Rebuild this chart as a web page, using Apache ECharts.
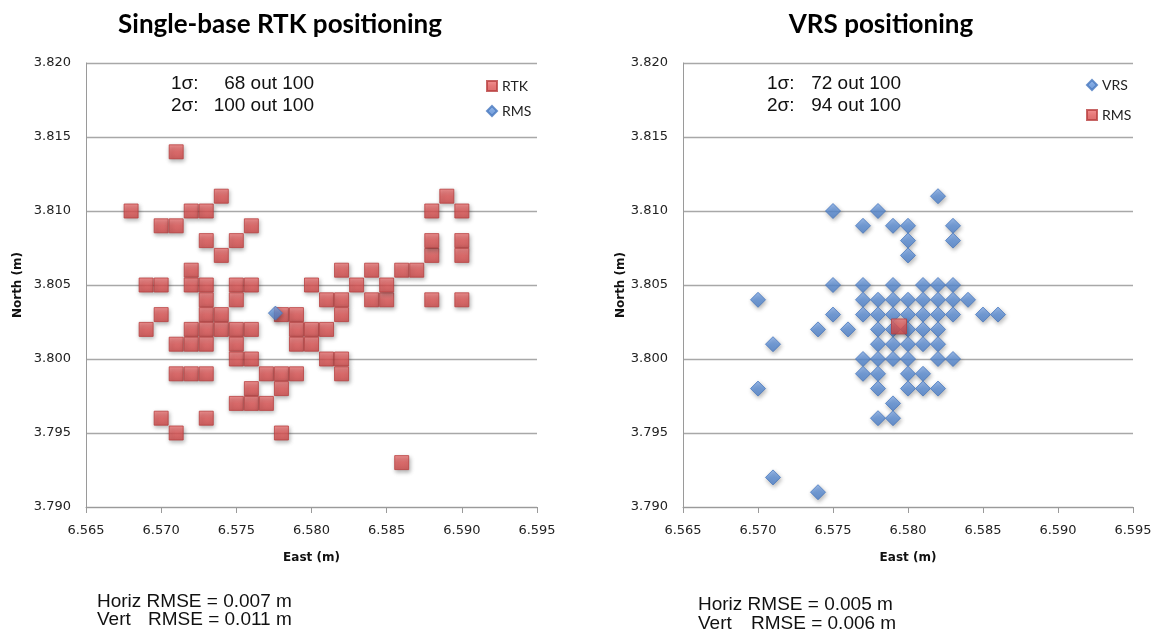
<!DOCTYPE html>
<html>
<head>
<meta charset="utf-8">
<script src="https://cdn.jsdelivr.net/npm/echarts@6/dist/echarts.min.js"></script>
<style>
  html, body { margin: 0; padding: 0; background: #fff; }
  #chart { width: 1158px; height: 633px; }
</style>
</head>
<body>
<div id="chart"></div>
<script>
// East / North positions (m)
const rtkPoints = [
  [6.571, 3.814],
  [6.568, 3.810], [6.572, 3.810], [6.573, 3.810], [6.574, 3.811],
  [6.570, 3.809], [6.571, 3.809], [6.576, 3.809],
  [6.573, 3.808], [6.575, 3.808], [6.574, 3.807], [6.572, 3.806],
  [6.569, 3.805], [6.570, 3.805], [6.572, 3.805], [6.573, 3.805], [6.575, 3.805], [6.576, 3.805],
  [6.573, 3.804], [6.575, 3.804],
  [6.570, 3.803], [6.573, 3.803], [6.574, 3.803],
  [6.569, 3.802], [6.572, 3.802], [6.573, 3.802], [6.574, 3.802], [6.575, 3.802], [6.576, 3.802],
  [6.571, 3.801], [6.572, 3.801], [6.573, 3.801], [6.575, 3.801],
  [6.575, 3.800], [6.576, 3.800],
  [6.571, 3.799], [6.572, 3.799], [6.573, 3.799], [6.577, 3.799], [6.578, 3.799], [6.579, 3.799],
  [6.576, 3.798], [6.578, 3.798],
  [6.575, 3.797], [6.576, 3.797], [6.577, 3.797],
  [6.570, 3.796], [6.573, 3.796],
  [6.571, 3.795], [6.578, 3.795],
  [6.586, 3.793],
  [6.578, 3.803], [6.579, 3.803],
  [6.579, 3.802], [6.580, 3.802], [6.581, 3.802],
  [6.579, 3.801], [6.580, 3.801],
  [6.581, 3.800], [6.582, 3.800],
  [6.582, 3.799],
  [6.580, 3.805],
  [6.581, 3.804], [6.582, 3.804],
  [6.582, 3.806], [6.582, 3.803],
  [6.583, 3.805], [6.584, 3.806],
  [6.584, 3.804], [6.585, 3.804], [6.585, 3.805],
  [6.586, 3.806], [6.587, 3.806],
  [6.588, 3.807], [6.588, 3.808], [6.588, 3.810], [6.589, 3.811],
  [6.590, 3.810], [6.590, 3.808], [6.590, 3.807],
  [6.588, 3.804], [6.590, 3.804]
];
const rtkRms = [[6.5776, 3.8031]];

const vrsPoints = [
  [6.582, 3.811],
  [6.575, 3.810], [6.578, 3.810],
  [6.577, 3.809], [6.579, 3.809], [6.580, 3.809], [6.583, 3.809],
  [6.580, 3.808], [6.583, 3.808],
  [6.580, 3.807],
  [6.575, 3.805], [6.577, 3.805], [6.579, 3.805], [6.581, 3.805], [6.582, 3.805], [6.583, 3.805],
  [6.570, 3.804], [6.577, 3.804], [6.578, 3.804], [6.579, 3.804], [6.580, 3.804],
  [6.581, 3.804], [6.582, 3.804], [6.583, 3.804], [6.584, 3.804],
  [6.575, 3.803], [6.577, 3.803], [6.578, 3.803], [6.579, 3.803], [6.580, 3.803],
  [6.581, 3.803], [6.582, 3.803], [6.583, 3.803], [6.585, 3.803], [6.586, 3.803],
  [6.574, 3.802], [6.576, 3.802], [6.578, 3.802], [6.579, 3.802], [6.580, 3.802], [6.581, 3.802], [6.582, 3.802],
  [6.571, 3.801], [6.578, 3.801], [6.579, 3.801], [6.580, 3.801], [6.581, 3.801], [6.582, 3.801],
  [6.577, 3.800], [6.578, 3.800], [6.579, 3.800], [6.580, 3.800], [6.582, 3.800], [6.583, 3.800],
  [6.577, 3.799], [6.578, 3.799], [6.580, 3.799], [6.581, 3.799],
  [6.570, 3.798], [6.578, 3.798], [6.580, 3.798], [6.581, 3.798], [6.582, 3.798],
  [6.579, 3.797],
  [6.578, 3.796], [6.579, 3.796],
  [6.571, 3.792], [6.574, 3.791]
];
const vrsRms = [[6.5794, 3.8022]];

const chartTitles = ["Single-base RTK positioning", "VRS positioning"];
const sigmaLines = [
  [["1σ:", "68 out 100"], ["2σ:", "100 out 100"]],
  [["1σ:", "72 out 100"], ["2σ:", "94 out 100"]]
];
const rmseLines = [
  [["Horiz RMSE = 0.007 m", ""], ["Vert", "RMSE = 0.011 m"]],
  [["Horiz RMSE = 0.005 m", ""], ["Vert", "RMSE = 0.006 m"]]
];

const chart = echarts.init(document.getElementById("chart"), null, { renderer: "canvas" });

const red = new echarts.graphic.LinearGradient(0, 0, 0, 1, [
  { offset: 0, color: "#f07a7a" },
  { offset: 0.5, color: "#e05656" },
  { offset: 1, color: "#d04848" }
]);
const blue = new echarts.graphic.LinearGradient(0, 0, 0, 1, [
  { offset: 0, color: "#86aeea" },
  { offset: 0.5, color: "#5e91d9" },
  { offset: 1, color: "#4f82cc" }
]);
const shadow = { shadowBlur: 4, shadowColor: "rgba(0,0,0,0.35)", shadowOffsetX: 1, shadowOffsetY: 2 };

const grids = [
  { left: 86, top: 63, width: 451, height: 444 },
  { left: 683, top: 63, width: 450, height: 444 }
];

function xAx(i) {
  return {
    gridIndex: i, type: "value", min: 6.565, max: 6.595, interval: 0.005,
    name: "East (m)", nameLocation: "middle", nameGap: 45,
    nameTextStyle: { fontFamily: "DejaVu Sans", fontWeight: "bold", fontSize: 12, color: "#111" },
    axisLine: { show: true, lineStyle: { color: "#9a9a9a", width: 1 } },
    axisTick: { show: true, inside: false, length: 6, lineStyle: { color: "#9a9a9a" } },
    axisLabel: { fontFamily: "DejaVu Sans", fontSize: 13, color: "#222", margin: 17,
      formatter: (v) => v.toFixed(3) },
    splitLine: { show: false }
  };
}
function yAx(i, gap) {
  return {
    gridIndex: i, type: "value", min: 3.790, max: 3.820, interval: 0.005,
    name: "North (m)", nameLocation: "middle", nameGap: gap, nameRotate: 90,
    nameTextStyle: { fontFamily: "DejaVu Sans", fontWeight: "bold", fontSize: 12, color: "#111" },
    axisLine: { show: true, lineStyle: { color: "#9a9a9a", width: 1 } },
    axisTick: { show: false },
    axisLabel: { fontFamily: "DejaVu Sans", fontSize: 13, color: "#222", margin: 15,
      formatter: (v) => v.toFixed(3) },
    splitLine: { show: true, lineStyle: { color: "#a8a8a8", width: 1.3 } }
  };
}

const graphics = [];
const titleX = [280, 881];
const sigmaLeft = [171, 767];
const sigmaRight = [314, 901];
const rmseLeft = [97, 698];
const rmseSecond = [148, 751];
const rmseY = [[601.5, 620], [605, 624]];
for (let i = 0; i < 2; i++) {
  graphics.push({ type: "text", x: titleX[i], y: 25, style: {
    text: chartTitles[i], fontFamily: "Lato", fontWeight: "bold", fontSize: 26, fill: "#000",
    align: "center", verticalAlign: "middle" } });
  sigmaLines[i].forEach((ln, k) => {
    const y = 83.5 + k * 22.5;
    graphics.push({ type: "text", x: sigmaLeft[i], y, style: {
      text: ln[0], fontFamily: "Liberation Sans", fontSize: 19, fill: "#111", align: "left", verticalAlign: "middle" } });
    graphics.push({ type: "text", x: sigmaRight[i], y, style: {
      text: ln[1], fontFamily: "Liberation Sans", fontSize: 19, fill: "#111", align: "right", verticalAlign: "middle" } });
  });
  rmseLines[i].forEach((ln, k) => {
    const y = rmseY[i][k];
    graphics.push({ type: "text", x: rmseLeft[i], y, style: {
      text: ln[0], fontFamily: "Liberation Sans", fontSize: 19, fill: "#111", align: "left", verticalAlign: "middle" } });
    if (ln[1]) {
      graphics.push({ type: "text", x: rmseSecond[i], y, style: {
        text: ln[1], fontFamily: "Liberation Sans", fontSize: 19, fill: "#111", align: "left", verticalAlign: "middle" } });
    }
  });
}

const legendText = { fontFamily: "Lato", fontSize: 14, color: "#222", lineHeight: 14 };

chart.setOption({
  animation: false,
  backgroundColor: "#fff",
  grid: grids,
  xAxis: [xAx(0), xAx(1)],
  yAxis: [yAx(0, 62), yAx(1, 53)],
  legend: [
    { orient: "vertical", left: 481, top: 74, itemWidth: 10, itemHeight: 10, itemGap: 11,
      data: ["RTK", "RMS_L"], textStyle: legendText, formatter: (n) => n.replace(/_.*/, "") },
    { orient: "vertical", left: 1081, top: 73, itemWidth: 10, itemHeight: 10, itemGap: 16,
      data: ["VRS", "RMS_R"], textStyle: legendText, formatter: (n) => n.replace(/_.*/, "") }
  ],
  graphic: graphics,
  series: [
    { name: "RTK", type: "scatter", xAxisIndex: 0, yAxisIndex: 0, data: rtkPoints,
      symbol: "rect", symbolSize: 14,
      itemStyle: Object.assign({ color: red, borderColor: "#b94040", borderWidth: 1 }, shadow) },
    { name: "RMS_L", type: "scatter", xAxisIndex: 0, yAxisIndex: 0, data: rtkRms,
      symbol: "diamond", symbolSize: 14, z: 3,
      itemStyle: Object.assign({ color: blue, borderColor: "#4677be", borderWidth: 1 }, shadow) },
    { name: "VRS", type: "scatter", xAxisIndex: 1, yAxisIndex: 1, data: vrsPoints,
      symbol: "diamond", symbolSize: 15,
      itemStyle: Object.assign({ color: blue, borderColor: "#4677be", borderWidth: 1 }, shadow) },
    { name: "RMS_R", type: "scatter", xAxisIndex: 1, yAxisIndex: 1, data: vrsRms,
      symbol: "rect", symbolSize: 15, z: 3,
      itemStyle: Object.assign({ color: red, borderColor: "#b94040", borderWidth: 1 }, shadow) }
  ]
});
</script>
</body>
</html>
